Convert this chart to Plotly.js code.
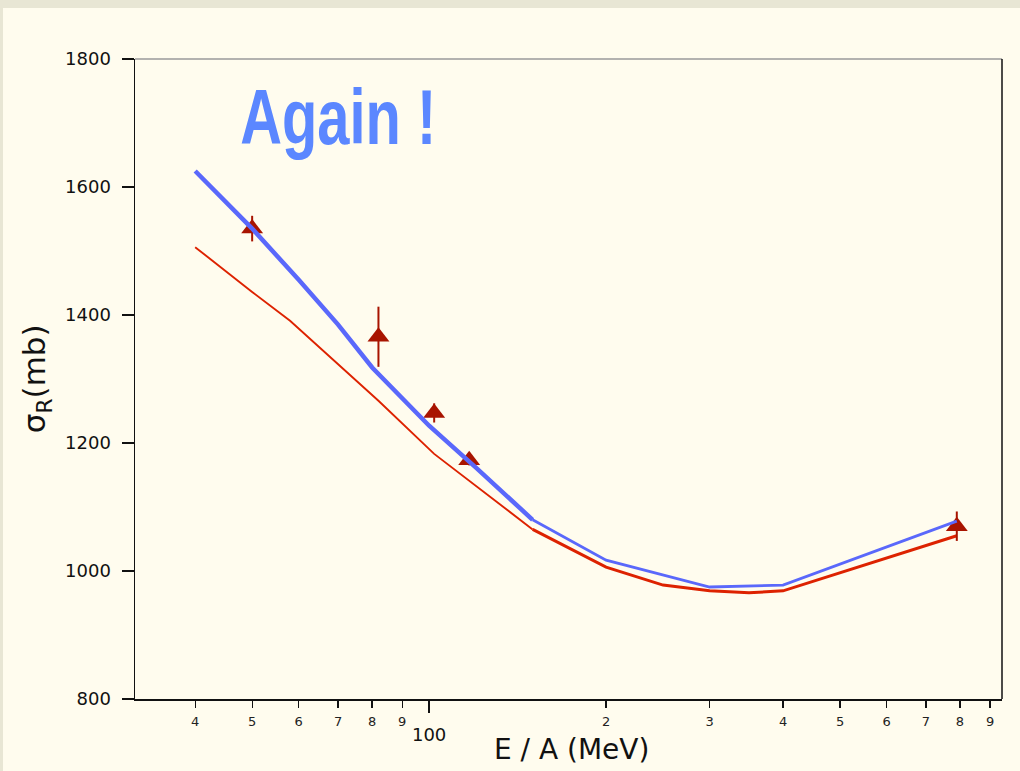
<!DOCTYPE html>
<html>
<head>
<meta charset="utf-8">
<script src="https://cdn.plot.ly/plotly-3.0.1.min.js"></script>
<style>
  html, body { margin:0; padding:0; background:#e8e6d4; width:1020px; height:771px; overflow:hidden; }
  #plot { position:absolute; left:3px; top:8px; width:1017px; height:763px; }
</style>
</head>
<body>
<div id="plot"></div>
<script>
// ---- data ----
const blueE = [40, 50, 60, 70, 80, 100, 120, 150, 200, 300, 400, 790];
const blueS = [1625, 1535, 1455, 1385, 1318, 1227, 1162, 1080, 1017, 975, 978, 1078];
const blueSplit = 7; // thick up to 150 MeV, thinner after

const redE = [40, 50, 58, 82, 102, 120, 150, 200, 250, 300, 350, 400, 790];
const redS = [1506, 1436, 1391, 1266, 1183, 1133, 1065, 1006, 978, 969, 966, 969, 1055];
const redSplit = 6; // thin up to 150 MeV, thicker after

const dataE = [50, 82, 102, 117, 790];
const dataS = [1535, 1366, 1247, 1173, 1070];
const dataErr = [20, 47, 15, 8, 23];

const minorTickVals = [40, 50, 60, 70, 80, 90, 200, 300, 400, 500, 600, 700, 800, 900];
const minorTickText = ["4", "5", "6", "7", "8", "9", "2", "3", "4", "5", "6", "7", "8", "9"];
const decadeTickVals = [100];
const decadeTickText = ["100"];
const yTickVals = [800, 1000, 1200, 1400, 1600, 1800];

const BLUE = "#5a68fb";
const RED = "#dd2200";
const MARK = "#a81400";

const xRange = [Math.log10(31.6), Math.log10(943)];

const traces = [
  { x: redE.slice(0, redSplit + 1), y: redS.slice(0, redSplit + 1), type: "scatter", mode: "lines",
    line: { color: RED, width: 1.9 }, hoverinfo: "skip" },
  { x: redE.slice(redSplit), y: redS.slice(redSplit), type: "scatter", mode: "lines",
    line: { color: RED, width: 3 }, hoverinfo: "skip" },
  { x: dataE, y: dataS, type: "scatter", mode: "markers",
    marker: { symbol: "triangle-up", size: 19, color: MARK },
    error_y: { type: "data", array: dataErr, visible: true, color: MARK, thickness: 2, width: 0 } },
  { x: blueE.slice(0, blueSplit + 1), y: blueS.slice(0, blueSplit + 1), type: "scatter", mode: "lines",
    xaxis: "x2", line: { color: BLUE, width: 4.5 }, hoverinfo: "skip" },
  { x: blueE.slice(blueSplit), y: blueS.slice(blueSplit), type: "scatter", mode: "lines",
    xaxis: "x2", line: { color: BLUE, width: 2.8 }, hoverinfo: "skip" }
];

const layout = {
  width: 1017, height: 763,
  paper_bgcolor: "#fffcee", plot_bgcolor: "#fffcee",
  showlegend: false,
  margin: { l: 132, r: 18, t: 51, b: 72 },
  font: { family: "DejaVu Sans, Verdana, sans-serif", color: "#111" },
  xaxis: {
    type: "log", range: xRange, showgrid: false, zeroline: false,
    showline: true, linecolor: "#111", linewidth: 1.5,
    tickmode: "array", tickvals: minorTickVals, ticktext: minorTickText,
    ticks: "outside", ticklen: 7, tickwidth: 1.3, tickcolor: "#111",
    tickfont: { size: 13, color: "#222" }, ticklabelstandoff: 3
  },
  xaxis2: {
    type: "log", range: xRange, overlaying: "x", anchor: "y", side: "bottom",
    showgrid: false, zeroline: false, showline: false,
    tickmode: "array", tickvals: decadeTickVals, ticktext: decadeTickText,
    ticks: "outside", ticklen: 13, tickwidth: 1.5, tickcolor: "#111",
    tickfont: { size: 18, color: "#111" }, ticklabelstandoff: 6
  },
  yaxis: {
    range: [800, 1800], showgrid: false, zeroline: false,
    showline: true, linecolor: "#111", linewidth: 1.5,
    tickmode: "array", tickvals: yTickVals,
    ticks: "outside", ticklen: 12, tickwidth: 1.3, tickcolor: "#111",
    tickfont: { size: 18, color: "#111" }, ticklabelstandoff: 7
  },
  shapes: [
    { type: "line", xref: "paper", yref: "paper", x0: 0, x1: 1, y0: 1, y1: 1,
      line: { color: "#9a9a9a", width: 1.5 } },
    { type: "line", xref: "paper", yref: "paper", x0: 1, x1: 1, y0: 0, y1: 1,
      line: { color: "#111", width: 1.5 } }
  ],
  annotations: [
    { text: "Again !", xref: "paper", yref: "paper", x: 0.234, y: 0.91,
      xanchor: "center", yanchor: "middle", showarrow: false,
      font: { family: "Liberation Sans, DejaVu Sans", size: 78, color: "#5b87ff", weight: "bold" } },
    { text: "E / A (MeV)", xref: "paper", yref: "paper", x: 0.503, y: -0.079,
      xanchor: "center", yanchor: "middle", showarrow: false,
      font: { size: 28, color: "#111" } },
    { text: "σ<sub>R</sub>(mb)", xref: "paper", yref: "paper", x: -0.114, y: 0.50,
      xanchor: "center", yanchor: "middle", showarrow: false, textangle: -90,
      font: { size: 31, color: "#111" } }
  ]
};

Plotly.newPlot("plot", traces, layout, { staticPlot: true, displayModeBar: false }).then(function (gd) {
  // condense the "Again !" label horizontally, like the narrow display face of the original
  const t = gd.querySelector('.annotation[data-index="0"] text.annotation-text');
  if (t) {
    t.setAttribute("textLength", "196");
    t.setAttribute("lengthAdjust", "spacingAndGlyphs");
  }
});
</script>
</body>
</html>
